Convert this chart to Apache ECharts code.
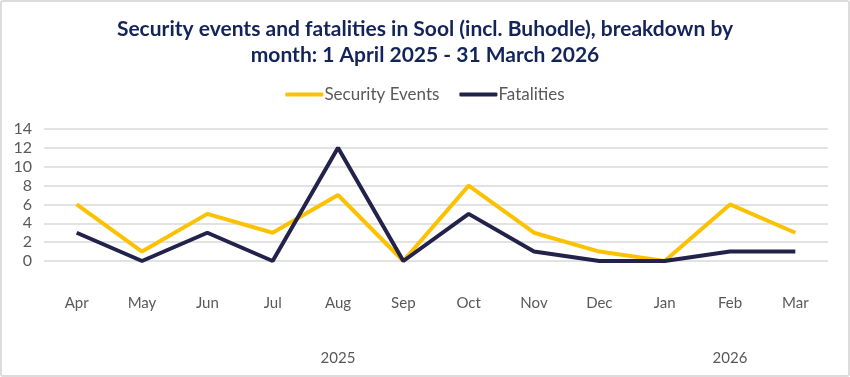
<!DOCTYPE html>
<html>
<head>
<meta charset="utf-8">
<script src="https://cdn.jsdelivr.net/npm/echarts@6/dist/echarts.min.js"></script>
<style>
  html, body { margin: 0; padding: 0; background: #fff; }
  #main { width: 850px; height: 377px; box-sizing: border-box; border: 2px solid #dcdcdc; border-radius: 3px; }
</style>
</head>
<body>
<div id="main"></div>
<script>
// 数据
var months = ['Apr', 'May', 'Jun', 'Jul', 'Aug', 'Sep', 'Oct', 'Nov', 'Dec', 'Jan', 'Feb', 'Mar'];
var yearLabels = ['', '', '', '', '2025', '', '', '', '', '', '2026', ''];
var securityEvents = [6, 1, 5, 3, 7, 0, 8, 3, 1, 0, 6, 3];
var fatalities = [3, 0, 3, 0, 12, 0, 5, 1, 0, 0, 1, 1];

var chart = echarts.init(document.getElementById('main'));
var font = 'Lato';
var option = {
    animation: false,
    title: {
        text: 'Security events and fatalities in Sool (incl. Buhodle), breakdown by\nmonth: 1 April 2025 - 31 March 2026',
        left: 'center',
        top: 9,
        textStyle: {
            fontFamily: font,
            fontWeight: 'bold',
            fontSize: 21,
            lineHeight: 26,
            color: '#13245a'
        }
    },
    legend: {
        top: 79,
        left: 'center',
        itemWidth: 38,
        itemHeight: 4,
        itemGap: 20,
        icon: 'roundRect',
        textStyle: { fontFamily: font, fontSize: 17, color: '#595959', padding: [0, 0, 0, -4] },
        data: ['Security Events', 'Fatalities']
    },
    grid: { left: 42, right: 20, top: 127, bottom: 114 },
    xAxis: [{
        type: 'category',
        data: months,
        axisLine: { show: false },
        axisTick: { show: false },
        axisLabel: { margin: 35, fontFamily: font, fontSize: 15, color: '#595959' }
    }, {
        type: 'category',
        data: yearLabels,
        position: 'bottom',
        offset: 82,
        axisLine: { show: false },
        axisTick: { show: false },
        axisLabel: { interval: 0, fontFamily: font, fontSize: 15, color: '#595959' }
    }],
    yAxis: {
        type: 'value',
        min: 0,
        max: 14,
        interval: 2,
        axisLabel: { margin: 12, fontFamily: font, fontSize: 16, color: '#595959' },
        splitLine: { lineStyle: { color: '#d9d9d9', width: 1.5 } }
    },
    series: [{
        name: 'Security Events',
        type: 'line',
        data: securityEvents,
        symbol: 'none',
        lineStyle: { width: 4, color: '#fcc201' },
        itemStyle: { color: '#fcc201' }
    }, {
        name: 'Fatalities',
        type: 'line',
        data: fatalities,
        symbol: 'none',
        lineStyle: { width: 4, color: '#23224a' },
        itemStyle: { color: '#23224a' }
    }]
};
chart.setOption(option);
</script>
</body>
</html>
